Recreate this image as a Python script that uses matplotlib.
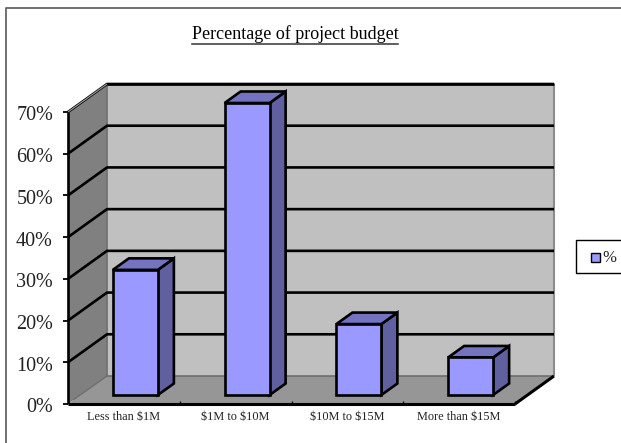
import matplotlib
matplotlib.use('Agg')
import matplotlib.pyplot as plt
from matplotlib.patches import Polygon, Rectangle
from matplotlib.lines import Line2D

categories = ['Less than \\$1M', '\\$1M to \\$10M', '\\$10M to \\$15M', 'More than \\$15M']
values = [30, 70, 17, 9]
y_ticks = [0, 10, 20, 30, 40, 50, 60, 70]

W, H = 621, 443
plt.rcParams['font.family'] = ['Liberation Serif', 'DejaVu Serif']

fig = plt.figure(figsize=(W / 100, H / 100), dpi=100)

# front plane of the fake 3d box, in pixels
left, right, top, bottom = 68, 515, 112, 404
ax = fig.add_axes([left / W, 1 - bottom / H, (right - left) / W, (bottom - top) / H])
ax.set_xlim(0, 4)
ax.set_ylim(0, 70)
ax.patch.set_visible(False)
ax.set_xticks([])
ax.set_yticks([])
for s in ax.spines.values():
    s.set_visible(False)

# depth of the box and bars, in data units
px_x = 4 / (right - left)
px_y = 70 / (bottom - top)
box_dx, box_dy = 39 * px_x, 28 * px_y
bar_dx, bar_dy = 16 * px_x, 11.5 * px_y
front_dx, front_dy = 11.5 * px_x, 9 * px_y
bar_w = 45 * px_x
lw = 1.9


def poly(pts, color, z, edge='none', width=0):
    ax.add_patch(Polygon(pts, closed=True, facecolor=color, edgecolor=edge, linewidth=width,
                         zorder=z, clip_on=False))


def line(xs, ys, z=3, width=lw, color='black'):
    ax.add_line(Line2D(xs, ys, color=color, linewidth=width, zorder=z, clip_on=False,
                       solid_capstyle='butt'))


# walls and floor
poly([(box_dx, box_dy), (4 + box_dx, box_dy), (4 + box_dx, 70 + box_dy), (box_dx, 70 + box_dy)], '#c0c0c0', 1)
poly([(0, 0), (box_dx, box_dy), (box_dx, 70 + box_dy), (0, 70)], '#808080', 1)
poly([(0, 0), (4, 0), (4 + box_dx, box_dy), (box_dx, box_dy)], '#969696', 1)
line([box_dx, box_dx], [box_dy, 70 + box_dy], z=2, width=1.2, color='#6e6e6e')
line([box_dx, 4 + box_dx], [box_dy, box_dy], z=2, width=1.2, color='#6e6e6e')
line([4 + box_dx, 4 + box_dx], [box_dy, 70 + box_dy], z=2, width=1.5, color='#8c8c8c')
line([5 * px_x, box_dx], [4 * px_y, box_dy], z=2, width=1, color='#6e6e6e')

# gridlines run along the left wall and the back wall
for t in y_ticks[1:]:
    line([0, box_dx, 4 + box_dx], [t, t + box_dy, t + box_dy], z=2)
line([box_dx, 4 + box_dx], [70 + box_dy, 70 + box_dy], z=2)
line([0, box_dx], [70, 70 + box_dy], z=2, width=0.8, color='#a0a0a0')

# axes lines and ticks
line([0, 0], [0, 70])
line([0, 4], [0, 0], width=2.2)
line([4, 4 + box_dx], [0, box_dy], width=2.2)
for t in y_ticks:
    line([-5 * px_x, 0], [t, t], width=1.3)
    ax.text(-15 * px_x, t - 4 * px_y, f'{t}%', ha='right', va='center', fontsize=14.5, color='#222222')
for i in range(1, 5):
    line([i, i], [0, 3 * px_y], width=0.9)

# bars
for i, v in enumerate(values):
    x0 = i + 0.5 - bar_w / 2 + front_dx
    x1 = x0 + bar_w
    y0 = front_dy
    y1 = y0 + v
    poly([(x1, y0), (x1 + bar_dx, y0 + bar_dy), (x1 + bar_dx, y1 + bar_dy), (x1, y1)], '#6060a0', 5, 'black', lw)
    poly([(x0, y1), (x1, y1), (x1 + bar_dx, y1 + bar_dy), (x0 + bar_dx, y1 + bar_dy)], '#7373bf', 5, 'black', lw)
    poly([(x0, y0), (x1, y0), (x1, y1), (x0, y1)], '#9999ff', 6, 'black', lw)
    ax.text(i + 0.5, -13 * px_y, categories[i], ha='center', va='center', fontsize=8.8, color='#222222')

# page furniture, in figure pixels
page = fig.transFigure
def px(x, y):
    return x / W, 1 - y / H

fig.add_artist(Line2D([6 / W, 6 / W, 1], [0, 1 - 8 / H, 1 - 8 / H], color='#666666', linewidth=1.3))
fig.text(*px(295, 34), 'Percentage of project budget', ha='center', va='center', fontsize=13, color='black')
fig.add_artist(Line2D([192 / W, 398 / W], [1 - 44 / H, 1 - 44 / H], color='#333333', linewidth=1.1))

# legend box runs off the right edge
fig.add_artist(Rectangle(px(576, 273), 50 / W, 33 / H, transform=page, facecolor='white',
                         edgecolor='black', linewidth=1))
fig.add_artist(Rectangle(px(591, 262), 9 / W, 9 / H, transform=page, facecolor='#9999ff',
                         edgecolor='black', linewidth=1))
fig.text(*px(609, 258), '%', ha='center', va='center', fontsize=12, color='#222222')

fig.savefig('out.png', dpi=100)
